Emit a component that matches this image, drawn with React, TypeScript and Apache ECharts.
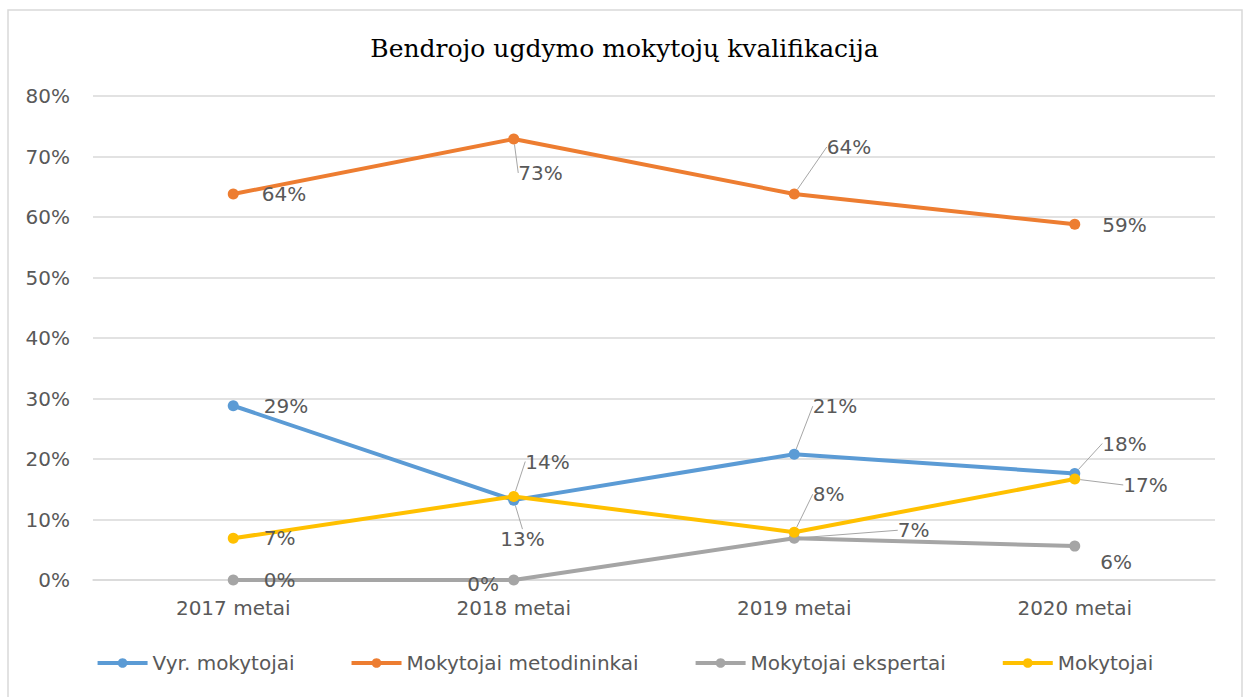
import React, { useEffect, useRef } from "react";
import * as echarts from "echarts";

const categories = ["2017 metai", "2018 metai", "2019 metai", "2020 metai"];
const seriesNames = ["Vyr. mokytojai", "Mokytojai metodininkai", "Mokytojai ekspertai", "Mokytojai"];
const vyrMokytojai = [28.8, 13.2, 20.8, 17.6];
const metodininkai = [63.8, 72.9, 63.8, 58.8];
const ekspertai = [0, 0, 6.9, 5.6];
const mokytojai = [6.9, 13.8, 7.9, 16.7];
const yTicks = [0, 10, 20, 30, 40, 50, 60, 70, 80];

const colors = ["#5B9BD5", "#ED7D31", "#A5A5A5", "#FFC000"];
// label displacement per point [dx, dy, showLeader]
const labelOffsets: [number, number, boolean][][] = [
  [[20, 0, false], [-24, 39, true], [8, -48, true], [17, -30, true]],
  [[18, 0, false], [-6, 34, true], [22, -47, true], [17, 1, false]],
  [[20, 0, false], [-57, 4, false], [93, -8, true], [15, 16, false]],
  [[20, 0, false], [1, -35, true], [8, -38, true], [38, 6, true]],
];

export default function App() {
  const ref = useRef<HTMLDivElement>(null);
  useEffect(() => {
    if (!ref.current) return;
    const chart = echarts.init(ref.current, undefined, { renderer: "svg" });
    const allData = [vyrMokytojai, metodininkai, ekspertai, mokytojai];
    const textColor = "#595959";
    const font = "DejaVu Sans";
    chart.setOption({
      animation: false,
      backgroundColor: "#ffffff",
      title: {
        text: "Bendrojo ugdymo mokytojų kvalifikacija",
        left: "center",
        top: 31,
        textStyle: { fontFamily: "DejaVu Serif", fontSize: 25, fontWeight: "normal", color: "#000000" },
      },
      graphic: [
        {
          type: "rect",
          shape: { x: 8, y: 10, width: 1234, height: 700 },
          style: { fill: "none", stroke: "#d9d9d9", lineWidth: 1.5 },
          silent: true,
        },
      ],
      legend: {
        bottom: 19,
        left: "center",
        itemWidth: 50,
        itemHeight: 12,
        itemGap: 55,
        lineStyle: { width: 4 },
        textStyle: { fontFamily: font, fontSize: 20, color: textColor },
        data: seriesNames,
      },
      grid: { left: 93, right: 34, top: 96, bottom: 117 },
      xAxis: {
        type: "category",
        data: categories,
        boundaryGap: true,
        axisLine: { lineStyle: { color: "#d9d9d9", width: 1.5 } },
        axisTick: { show: false },
        axisLabel: { fontFamily: font, fontSize: 20, color: textColor, margin: 18 },
      },
      yAxis: {
        type: "value",
        min: yTicks[0],
        max: yTicks[yTicks.length - 1],
        interval: 10,
        axisLine: { show: false },
        axisTick: { show: false },
        splitLine: { lineStyle: { color: "#d9d9d9", width: 1.5 } },
        axisLabel: { fontFamily: font, fontSize: 20, color: textColor, margin: 23, formatter: (v: number) => v + "%" },
      },
      series: allData.map((d, si) => ({
        name: seriesNames[si],
        type: "line",
        data: d.map((v, i) => ({
          value: v,
          labelLine: { show: labelOffsets[si][i][2] },
        })),
        color: colors[si],
        lineStyle: { width: 4, color: colors[si] },
        symbol: "circle",
        symbolSize: 11,
        itemStyle: { color: colors[si] },
        z: si === 3 ? 5 : 3,
        label: {
          show: true,
          position: "right",
          distance: 5,
          fontFamily: font,
          fontSize: 20,
          color: textColor,
          formatter: (p: any) => Math.round(p.value) + "%",
        },
        labelLine: { show: false, lineStyle: { color: "#a6a6a6", width: 1 } },
        labelLayout: (p: any) => ({
          dx: labelOffsets[si][p.dataIndex][0],
          dy: labelOffsets[si][p.dataIndex][1],
        }),
      })),
    });
    return () => chart.dispose();
  }, []);
  return <div ref={ref} style={{ position: "fixed", left: 0, top: 0, width: 1249, height: 697 }} />;
}
